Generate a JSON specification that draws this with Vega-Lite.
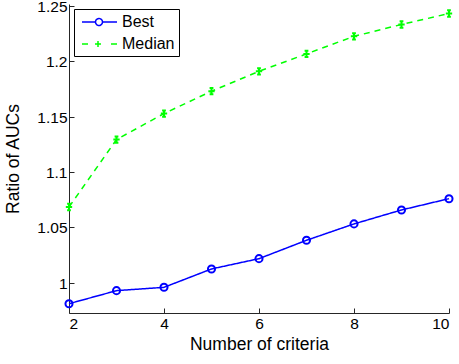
{
  "$schema": "https://vega.github.io/schema/vega-lite/v6.json",
  "autosize": {"type": "none"},
  "padding": {"left": 69, "top": 4, "right": 10, "bottom": 51},
  "width": 380,
  "height": 309,
  "background": "white",
  "config": {
    "view": {"stroke": null},
    "font": "Liberation Sans",
    "axis": {
      "grid": false,
      "domainColor": "#262626",
      "tickColor": "#262626",
      "labelColor": "black",
      "titleColor": "black",
      "labelFont": "Liberation Sans",
      "titleFont": "Liberation Sans",
      "labelFontSize": 15.5,
      "titleFontSize": 17.5,
      "titleFontWeight": "normal",
      "tickSize": -5,
      "domainWidth": 1,
      "tickWidth": 1
    }
  },
  "data": {
    "values": [
      {"n": 2, "series": "Best", "ratio": 0.981},
      {"n": 3, "series": "Best", "ratio": 0.9928},
      {"n": 4, "series": "Best", "ratio": 0.9958},
      {"n": 5, "series": "Best", "ratio": 1.0124},
      {"n": 6, "series": "Best", "ratio": 1.0217},
      {"n": 7, "series": "Best", "ratio": 1.0383},
      {"n": 8, "series": "Best", "ratio": 1.0531},
      {"n": 9, "series": "Best", "ratio": 1.0657},
      {"n": 10, "series": "Best", "ratio": 1.0759},
      {"n": 2, "series": "Median", "ratio": 1.0684},
      {"n": 3, "series": "Median", "ratio": 1.1293},
      {"n": 4, "series": "Median", "ratio": 1.1528},
      {"n": 5, "series": "Median", "ratio": 1.173},
      {"n": 6, "series": "Median", "ratio": 1.191},
      {"n": 7, "series": "Median", "ratio": 1.2067},
      {"n": 8, "series": "Median", "ratio": 1.2226},
      {"n": 9, "series": "Median", "ratio": 1.2333},
      {"n": 10, "series": "Median", "ratio": 1.2432}
    ]
  },
  "encoding": {
    "x": {
      "field": "n",
      "type": "quantitative",
      "scale": {"domain": [2, 10], "nice": false, "zero": false},
      "axis": {"values": [2, 4, 6, 8, 10], "title": "Number of criteria", "labelPadding": 8, "titlePadding": 4}
    },
    "y": {
      "field": "ratio",
      "type": "quantitative",
      "scale": {"domain": [0.9726, 1.2518], "nice": false, "zero": false},
      "axis": {"values": [1, 1.05, 1.1, 1.15, 1.2, 1.25], "format": ".2~f", "title": "Ratio of AUCs", "labelPadding": 7, "titlePadding": 14, "labelBaseline": "alphabetic", "labelOffset": 5.5}
    }
  },
  "layer": [
    {
      "mark": {"type": "line", "strokeWidth": 1.5},
      "encoding": {
        "color": {
          "field": "series",
          "type": "nominal",
          "scale": {"domain": ["Best", "Median"], "range": ["#0000ff", "#00ff00"]},
          "legend": {
            "title": null,
            "orient": "top-left",
            "offset": 5,
            "padding": 4,
            "fillColor": "white",
            "strokeColor": "black",
            "labelFontSize": 16,
            "labelColor": "black",
            "labelFont": "Liberation Sans",
            "symbolSize": 256,
            "symbolStrokeWidth": 1.5,
            "labelOffset": 26,
            "rowPadding": 5,
            "encode": {
              "symbols": {
                "update": {
                  "shape": [
                    {"test": "datum.value === 'Best'", "value": "M-0.625,0H1.0625M1.9375,0H3.75M1.9375,0A0.4375,0.4375 0 1,1 1.0625,0A0.4375,0.4375 0 1,1 1.9375,0"},
                    {"value": "M-0.625,0H0.125M1,0H1.75M1.375,-0.375V0.375M3,0H3.75"}
                  ],
                  "fill": {"value": "transparent"},
                  "strokeDash": {"value": []}
                }
              }
            }
          }
        },
        "strokeDash": {
          "field": "series",
          "type": "nominal",
          "scale": {"domain": ["Best", "Median"], "range": [[1, 0], [6, 5]]},
          "legend": null
        }
      }
    },
    {
      "transform": [{"filter": "datum.series === 'Best'"}],
      "mark": {"type": "point", "shape": "circle", "filled": false, "size": 50, "strokeWidth": 2, "color": "#0000ff", "opacity": 1}
    },
    {
      "transform": [{"filter": "datum.series === 'Median'"}],
      "mark": {"type": "point", "shape": "M-1,0H1M0,-1V1M-0.6,-1H0.6M-0.6,1H0.6", "filled": false, "size": 40, "strokeWidth": 2, "color": "#00ff00", "opacity": 1}
    }
  ]
}
